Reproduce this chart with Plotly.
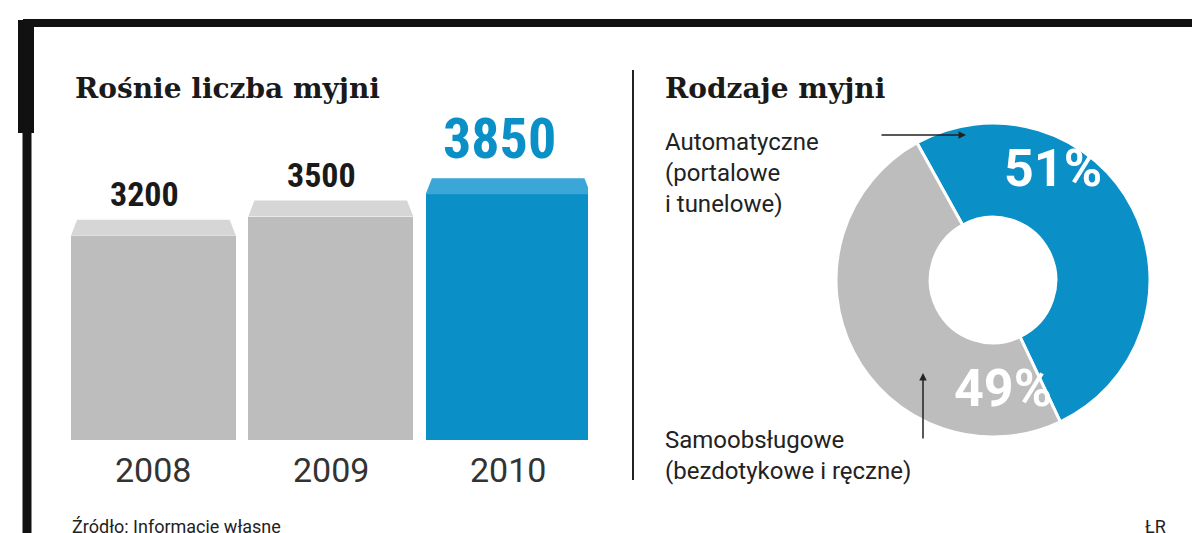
import plotly.graph_objects as go

years = ["2008", "2009", "2010"]
counts = [3200, 3500, 3850]
bar_front = ["#bdbdbd", "#bdbdbd", "#0a8fc7"]
bar_top = ["#d6d6d6", "#d6d6d6", "#3aa7d8"]
label_colors = ["#1a1a1a", "#1a1a1a", "#0a8fc7"]
label_sizes = [34, 34, 56]

pie_labels = ["Automatyczne (portalowe i tunelowe)", "Samoobsługowe (bezdotykowe i ręczne)"]
pie_values = [51, 49]
pie_colors = ["#0a8fc7", "#bdbdbd"]

W, H = 1200, 533
xs = list(range(len(years)))
bw = 0.93
depth = 250
inset = 0.035

fig = go.Figure()
fig.add_trace(go.Bar(x=xs, y=counts, width=bw, marker=dict(color=bar_front, line=dict(width=0)),
                     hoverinfo="skip", showlegend=False))
for i, v in enumerate(counts):
    x0, x1 = i - bw / 2, i + bw / 2
    fig.add_trace(go.Scatter(x=[x0, x1, x1 - inset, x0 + inset, x0],
                             y=[v, v, v + depth, v + depth, v],
                             fill="toself", fillcolor=bar_top[i], mode="lines",
                             line=dict(width=0), hoverinfo="skip", showlegend=False))
    fig.add_annotation(x=i - 0.05, y=v + depth, xref="x", yref="y", text=f"<b>{v}</b>",
                       showarrow=False, yanchor="bottom", yshift=4,
                       font=dict(size=label_sizes[i], color=label_colors[i], family="Roboto Condensed, Roboto"))
    fig.add_annotation(x=i, y=0, xref="x", yref="y", text=years[i], showarrow=False,
                       yanchor="top", yshift=-8, font=dict(size=34, color="#333", family="Roboto"))

fig.add_trace(go.Pie(values=pie_values, labels=pie_labels, marker=dict(colors=pie_colors, line=dict(color="white", width=3)),
                     hole=0.4, sort=False, direction="clockwise", rotation=-29, textinfo="none",
                     hoverinfo="skip", showlegend=False,
                     domain=dict(x=[828 / W, 1142 / W], y=[1 - 432 / H, 1 - 112 / H])))

def P(x, y):
    return x / W, 1 - y / H

ann = [
    (65, 80, "<b>Rośnie liczba myjni</b>", 28, "#1a1a1a", "left", "DejaVu Serif"),
    (655, 80, "<b>Rodzaje myjni</b>", 28, "#1a1a1a", "left", "DejaVu Serif"),
    (655, 165, "Automatyczne<br>(portalowe<br>i tunelowe)", 24, "#222", "left", "Roboto"),
    (655, 447, "Samoobsługowe<br>(bezdotykowe i ręczne)", 24, "#222", "left", "Roboto"),
    (1045, 160, "<b>51%</b>", 52, "white", "center", "Roboto"),
    (995, 380, "<b>49%</b>", 52, "white", "center", "Roboto"),
    (62, 518, "Źródło: Informacje własne", 18, "#222", "left", "Roboto"),
    (1160, 518, "ŁR", 18, "#222", "right", "Roboto"),
]
for x, y, t, s, c, al, fam in ann:
    px, py = P(x, y)
    fig.add_annotation(x=px, y=py, xref="paper", yref="paper", text=t, showarrow=False,
                       xanchor=al, yanchor="middle", align=al, font=dict(size=s, color=c, family=fam))

# pointers
fig.add_annotation(x=P(958, 127)[0], y=P(958, 127)[1], ax=-86, ay=0,
                   xref="paper", yref="paper", axref="pixel", ayref="pixel", text="",
                   showarrow=True, arrowhead=2, arrowsize=1, arrowwidth=1.5, arrowcolor="#222")
fig.add_annotation(x=P(915, 365)[0], y=P(915, 365)[1], ax=0, ay=67,
                   xref="paper", yref="paper", axref="pixel", ayref="pixel", text="",
                   showarrow=True, arrowhead=2, arrowsize=1, arrowwidth=1.5, arrowcolor="#222")

shapes = [
    dict(type="line", x0=15 / W, x1=1185 / W, y0=1 - 15 / H, y1=1 - 15 / H, line=dict(color="#111", width=8)),
    dict(type="line", x0=19 / W, x1=19 / W, y0=1 - 12 / H, y1=0, line=dict(color="#111", width=9)),
    dict(type="rect", x0=10 / W, x1=26 / W, y0=1 - 125 / H, y1=1 - 12 / H, fillcolor="#111", line=dict(width=0)),
    dict(type="line", x0=625 / W, x1=625 / W, y0=1 - 62 / H, y1=1 - 472 / H, line=dict(color="#222", width=2)),
]
for s in shapes:
    s.update(xref="paper", yref="paper")
fig.update_layout(shapes=shapes)

fig.update_layout(
    width=W, height=H, margin=dict(l=0, r=0, t=0, b=0),
    paper_bgcolor="white", plot_bgcolor="white", bargap=0,
    xaxis=dict(domain=[62 / W, 580 / W], range=[-0.47, 2.45], visible=False, fixedrange=True),
    yaxis=dict(domain=[1 - 432 / H, 1 - 100 / H], range=[0, 5200], visible=False, fixedrange=True),
)
fig.write_html("out.html")
